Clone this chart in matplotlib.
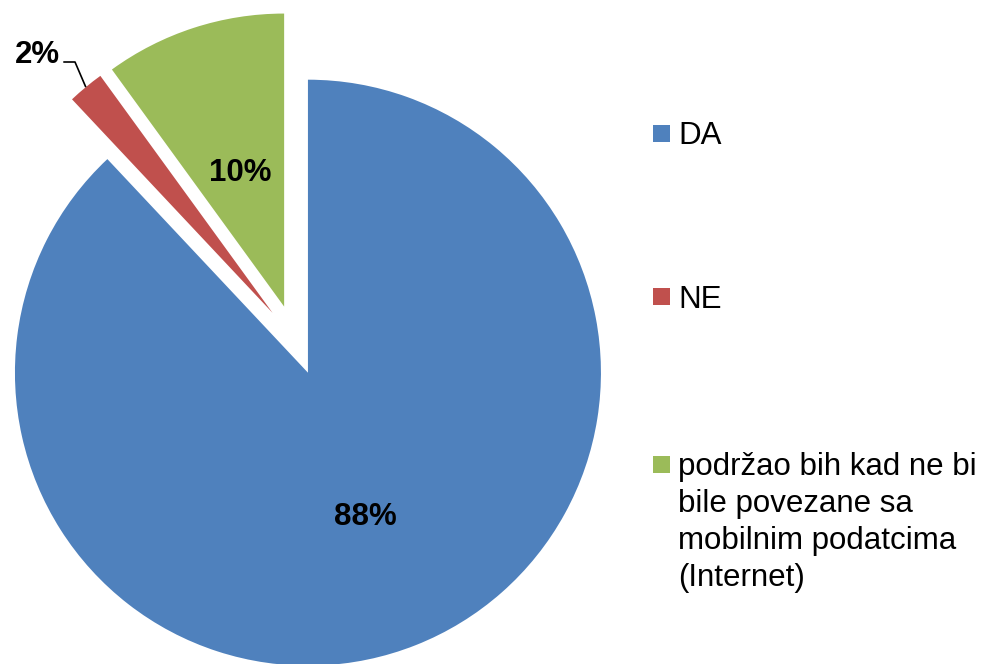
import numpy as np
import matplotlib
matplotlib.use("Agg")
import matplotlib.pyplot as plt
from matplotlib.patches import Rectangle

labels = ["DA", "NE", "podržao bih kad ne bi\nbile povezane sa\nmobilnim podatcima\n(Internet)"]
values = [88, 2, 10]
pct_labels = ["88%", "2%", "10%"]
colors = ["#4F81BD", "#C0504D", "#9BBB59"]

plt.rcParams['font.family'] = ['Liberation Sans', 'DejaVu Sans']

W, H = 987, 664
fig = plt.figure(figsize=(W / 100, H / 100), dpi=100)
ax = fig.add_axes([0, 0, 1, 1])
cx, cy, r = 295.0, 324.0, 293.0

explode = [0.12, 0.12, 0.12]
wedges, _ = ax.pie(values, explode=explode, colors=colors, startangle=90,
                   counterclock=False, radius=1.0,
                   wedgeprops=dict(linewidth=0))
ax.set_aspect('auto')
ax.set_xlim(-cx / r, (W - cx) / r)
ax.set_ylim(-cy / r, (H - cy) / r)
ax.axis('off')

FS = 22.5
pct_dist = [0.53, None, 0.48]
for i, w in enumerate(wedges):
    ang = np.deg2rad((w.theta1 + w.theta2) / 2)
    c = np.array(w.center)
    d = np.array([np.cos(ang), np.sin(ang)])
    if i == 1:
        anchor = c + d * 1.0
        elbow = np.array([(75 - cx) / r, (H - 62 - cy) / r])
        end = elbow + np.array([-0.04, 0])
        ax.plot([anchor[0], elbow[0], end[0]], [anchor[1], elbow[1], end[1]],
                color='black', lw=1.2, solid_capstyle='butt')
        ax.text(end[0] - 0.01, end[1] + 0.025, pct_labels[i], ha='right', va='center',
                fontsize=FS, fontweight='bold')
    else:
        pos = c + d * pct_dist[i]
        ax.text(pos[0], pos[1], pct_labels[i], ha='center', va='center',
                fontsize=FS, fontweight='bold')

# legend drawn manually
ys = [133, 297, 464]
for lab, col, y in zip(labels, colors, ys):
    fig.patches.append(Rectangle((653 / W, (H - y - 8.5) / H), 17 / W, 17 / H,
                                 transform=fig.transFigure, color=col, lw=0))
    if '\n' in lab:
        fig.text(678 / W, (H - y + 12) / H, lab, ha='left', va='top',
                 fontsize=FS, linespacing=1.3)
    else:
        fig.text(678 / W, (H - y) / H, lab, ha='left', va='center_baseline',
                 fontsize=FS)

fig.savefig("out.png", dpi=100)
